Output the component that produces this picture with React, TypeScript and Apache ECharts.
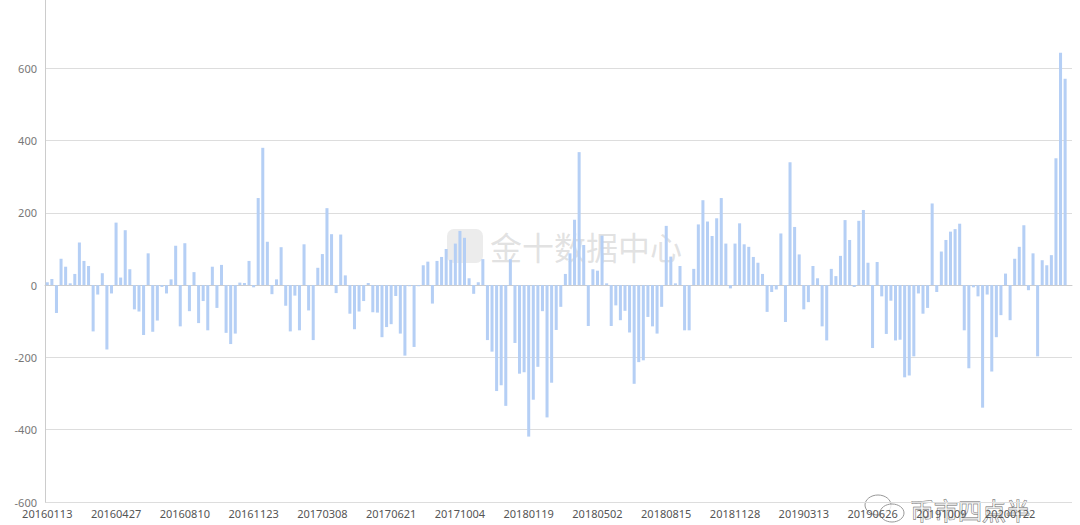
import React, { useEffect, useRef } from "react";
import * as echarts from "echarts";

// Weekly categories (Wednesdays) starting at this date; one release date was shifted.
const START_DATE = "20160113";
const SHIFTED_DATES: Record<number, string> = { 105: "20180119" };

// Weekly values, split by year.
const values2016: (number | null)[] = [
  8, 17, -77, 73, 51, 5, 31, 118, 67, 53,
  -128, -26, 33, -178, -23, 173, 21, 152, 44, -67,
  -73, -138, 88, -129, -98, -5, -23, 16, 109,
  -114, 116, -72, 36, -105, -44, -125, 51, -63, 56,
  -132, -163, -134, 7, 6, 67, -6, 241, 380, 120, -25, 16,
];
const values2017: (number | null)[] = [
  105,
  -57, -128, -29, -125, 113, -70, -152, 48, 86, 213,
  141, -22, 140, 27, -79, -122, -73, -44, 6, -75,
  -76, -144, -116, -108, -30, -134, -195, -3, -171, -3,
  55, 65, -51,
  67, 78, 100, 70, 115, 150, 131, 19, -24, 8,
  72, -152, -184, -293, -277, -334, 72, -160,
];
const values2018: (number | null)[] = [
  -245, -241, -419, -317, -226, -72, -366, -270, -124, -60,
  31, 88, 181, 368, 111, -113, 44, 40, 137, 5,
  -113, -56, -97, -71, -131, -273, -213, -208, -88, -114,
  -134, -60, 164, 79, 5, 53, -125, -125, 45,
  168, 235, 176, 136, 185, 241, 115, -9, 115, 171, 113, 106, 78,
];
const values2019: (number | null)[] = [
  62, 31, -74, -19, -12, 143, -102, 340, 161, 85,
  -67, -47, 53, 19, -114, -153, 45, 25, 81, 180,
  125, -5, 178, 208, 62, -174, 64, -31, -135, -43,
  -153, -151, -255, -250, -197, -23, -79, -63, 226, -19,
  93, 125, 148, 155, 170,
  -125, -230, -6, -31, -339, -26, -239,
];
const values2020: (number | null)[] = [
  -144, -83, 32, -97, 73, 106, 166, -14, 88, -197,
  69, 55, 83, 351, 643, 571, null,
];

const seriesValues = [
  ...values2016,
  ...values2017,
  ...values2018,
  ...values2019,
  ...values2020,
];

const Y_MIN = -600;
const Y_MAX = 800;
const Y_INTERVAL = 200;
const LABEL_EVERY = 15;

const WATERMARK_TEXT = "金十数据中心";
const SIGNATURE_TEXT = "币市四点半";

function weeklyDates(start: string, count: number): string[] {
  const y = +start.slice(0, 4);
  const m = +start.slice(4, 6) - 1;
  const d = +start.slice(6, 8);
  const base = Date.UTC(y, m, d);
  const out: string[] = [];
  for (let i = 0; i < count; i++) {
    const dt = new Date(base + i * 7 * 86400000);
    const s =
      dt.getUTCFullYear().toString() +
      String(dt.getUTCMonth() + 1).padStart(2, "0") +
      String(dt.getUTCDate()).padStart(2, "0");
    out.push(SHIFTED_DATES[i] ?? s);
  }
  return out;
}

const categories = weeklyDates(START_DATE, seriesValues.length);

// The chart is drawn 4px above the page top so that the 800 line sits just out of view.
const SHIFT = 4;

export default function App() {
  const ref = useRef<HTMLDivElement>(null);

  useEffect(() => {
    if (!ref.current) return;
    const chart = echarts.init(ref.current, undefined, { renderer: "svg" });
    chart.setOption({
      animation: false,
      backgroundColor: "#ffffff",
      grid: { left: 45, right: 8, top: 0, bottom: 23 },
      xAxis: {
        type: "category",
        data: categories,
        axisLine: { show: true, lineStyle: { color: "#cccccc" } },
        axisTick: { show: false },
        axisLabel: {
          interval: LABEL_EVERY - 1,
          color: "#555555",
          fontSize: 11,
          margin: 6,
          fontFamily: "Noto Sans, sans-serif",
        },
        splitLine: { show: false },
      },
      yAxis: {
        type: "value",
        min: Y_MIN,
        max: Y_MAX,
        interval: Y_INTERVAL,
        axisLine: { show: true, lineStyle: { color: "#cccccc" } },
        axisTick: { show: false },
        axisLabel: {
          color: "#777777",
          fontSize: 11,
          margin: 8,
          showMaxLabel: false,
          fontFamily: "Noto Sans, sans-serif",
        },
        splitLine: { show: true, lineStyle: { color: "#dddddd" } },
      },
      series: [
        {
          type: "bar",
          data: seriesValues,
          barWidth: "66%",
          itemStyle: { color: "#b5cff5" },
        },
      ],
      graphic: [
        {
          type: "group",
          z: 100,
          silent: true,
          children: [
            {
              type: "rect",
              shape: { x: 447, y: 229 + SHIFT, width: 36, height: 34, r: 7 },
              style: { fill: "rgba(200,200,200,0.35)" },
            },
            {
              type: "text",
              x: 490,
              y: 246 + SHIFT,
              style: {
                text: WATERMARK_TEXT,
                fontSize: 32,
                fontFamily: "Noto Sans CJK SC",
                fill: "rgba(190,190,190,0.45)",
                verticalAlign: "middle",
              },
            },
            {
              type: "ellipse",
              shape: { cx: 878, cy: 505 + SHIFT, rx: 13, ry: 10 },
              style: { fill: "rgba(255,255,255,0.8)", stroke: "#999999", lineWidth: 1 },
            },
            {
              type: "ellipse",
              shape: { cx: 892, cy: 513 + SHIFT, rx: 12, ry: 9 },
              style: { fill: "rgba(255,255,255,0.8)", stroke: "#999999", lineWidth: 1 },
            },
            {
              type: "text",
              x: 910,
              y: 509 + SHIFT,
              style: {
                text: SIGNATURE_TEXT,
                fontSize: 24,
                fontFamily: "Noto Sans CJK SC",
                fill: "rgba(255,255,255,0.7)",
                stroke: "#666666",
                lineWidth: 0.8,
                verticalAlign: "middle",
              },
            },
          ],
        },
      ],
    });
    return () => chart.dispose();
  }, []);

  return (
    <div
      ref={ref}
      style={{ position: "absolute", left: 0, top: -SHIFT, width: 1080, height: 525 + SHIFT }}
    />
  );
}
